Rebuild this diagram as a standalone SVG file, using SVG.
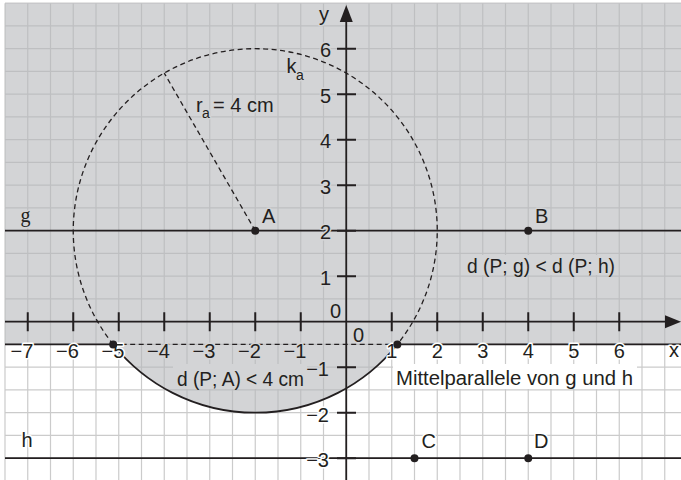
<svg xmlns="http://www.w3.org/2000/svg" width="681" height="480" viewBox="0 0 681 480">
<style>
  .t{font-family:"Liberation Sans",Arial,sans-serif;font-size:20px;fill:#231f20}
  .s{font-size:14px}
  .hg{paint-order:stroke;stroke:#d3d4d6;stroke-width:3;stroke-linejoin:round}
  .hw{paint-order:stroke;stroke:#ffffff;stroke-width:3;stroke-linejoin:round}
  .ln{stroke:#231f20;stroke-width:1.8;fill:none}
  .dash{stroke:#231f20;stroke-width:1.3;fill:none;stroke-dasharray:5 3.5}
  .tick{stroke:#231f20;stroke-width:2}
  .pt{fill:#231f20}
</style>
<defs>
  <path id="grid" fill="none" d="M5 3.2V480M27.75 3.2V480M50.5 3.2V480M73.25 3.2V480M96 3.2V480M118.75 3.2V480M141.5 3.2V480M164.25 3.2V480M187 3.2V480M209.75 3.2V480M232.5 3.2V480M255.25 3.2V480M278 3.2V480M300.75 3.2V480M323.5 3.2V480M346.25 3.2V480M369 3.2V480M391.75 3.2V480M414.5 3.2V480M437.25 3.2V480M460 3.2V480M482.75 3.2V480M505.5 3.2V480M528.25 3.2V480M551 3.2V480M573.75 3.2V480M596.5 3.2V480M619.25 3.2V480M642 3.2V480M664.75 3.2V480M5 3.2H681M5 25.95H681M5 48.7H681M5 71.45H681M5 94.2H681M5 116.95H681M5 139.7H681M5 162.45H681M5 185.2H681M5 207.95H681M5 230.7H681M5 253.45H681M5 276.2H681M5 298.95H681M5 321.7H681M5 344.45H681M5 367.2H681M5 389.95H681M5 412.7H681M5 435.45H681M5 458.2H681"/>
  <clipPath id="greyClip">
    <rect x="5" y="3.2" width="676" height="341.25"/>
    <circle cx="255.25" cy="230.7" r="182"/>
  </clipPath>
</defs>

<g id="background">
  <rect x="0" y="0" width="681" height="480" fill="#ffffff"/>
  <use href="#grid" stroke="#cbcbcb" stroke-width="1.2"/>
  <g clip-path="url(#greyClip)">
    <rect x="5" y="3.2" width="676" height="477" fill="#d3d4d6"/>
    <use href="#grid" stroke="#bebfc1" stroke-width="1.2"/>
  </g>
</g>

<g id="text-boxes">
  <rect x="393" y="364" width="244" height="25" fill="#ffffff"/>
  <rect x="173" y="364" width="134" height="25" fill="#d3d4d6"/>
  <rect x="463" y="255" width="155" height="20" fill="#d3d4d6"/>
</g>

<g id="connectors">
  <line class="ln" x1="5" y1="230.7" x2="681" y2="230.7"/>
  <line class="ln" x1="5" y1="458.2" x2="681" y2="458.2"/>
  <path class="ln" stroke-width="2" d="M5 344.45H113.18M397.32 344.45H681"/>
  <line class="dash" stroke-dasharray="6 3.5" x1="113.18" y1="344.45" x2="397.32" y2="344.45"/>
  <path class="dash" d="M113.18 344.45A182 182 0 1 1 397.32 344.45"/>
  <path class="ln" stroke-width="2" d="M113.18 344.45A182 182 0 0 0 397.32 344.45"/>
  <line class="dash" x1="255.25" y1="230.7" x2="164.25" y2="73.08"/>
  <line class="ln" stroke-width="2" x1="5" y1="321.7" x2="668" y2="321.7"/>
  <polygon class="pt" points="681,321.7 665,315.2 665,328.2"/>
  <line class="ln" stroke-width="2" x1="346.25" y1="480" x2="346.25" y2="20"/>
  <polygon class="pt" points="346.25,5 339.75,22 352.75,22"/>
  <path class="tick" d="M27.75 312.2V331.2M73.25 312.2V331.2M118.75 312.2V331.2M164.25 312.2V331.2M209.75 312.2V331.2M255.25 312.2V331.2M300.75 312.2V331.2M391.75 312.2V331.2M437.25 312.2V331.2M482.75 312.2V331.2M528.25 312.2V331.2M573.75 312.2V331.2M619.25 312.2V331.2"/>
  <path class="tick" d="M337 48.7H356M337 94.2H356M337 139.7H356M337 185.2H356M337 230.7H356M337 276.2H356M337 367.2H356M337 412.7H356M337 458.2H356"/>
</g>

<g id="axis-labels" class="t">
  <text class="t hg" x="319" y="21">y</text>
  <text class="t hw" x="669" y="357">x</text>
  <g text-anchor="end">
    <text class="t hg" x="331" y="57.4">6</text>
    <text class="t hg" x="331" y="102.9">5</text>
    <text class="t hg" x="331" y="148.4">4</text>
    <text class="t hg" x="331" y="193.9">3</text>
    <text class="t hg" x="331" y="239.4">2</text>
    <text class="t hg" x="331" y="284.9">1</text>
    <text class="t hg" x="341" y="317.5">0</text>
    <text class="t hg" x="329" y="376">−1</text>
    <text class="t hw" x="329" y="421.5">−2</text>
    <text class="t hw" x="329" y="467">−3</text>
    <text class="t hw" x="33.35" y="358.3">−7</text>
    <text class="t hw" x="78.85" y="358.3">−6</text>
    <text class="t hw" x="124.35" y="358.3">−5</text>
    <text class="t hg" x="169.85" y="358.3">−4</text>
    <text class="t hg" x="215.35" y="358.3">−3</text>
    <text class="t hg" x="260.85" y="358.3">−2</text>
    <text class="t hg" x="306.35" y="358.3">−1</text>
    <text class="t hw" x="397.35" y="358.3">1</text>
    <text class="t hw" x="442.85" y="358.3">2</text>
    <text class="t hw" x="488.35" y="358.3">3</text>
    <text class="t hw" x="533.85" y="358.3">4</text>
    <text class="t hw" x="579.35" y="358.3">5</text>
    <text class="t hw" x="624.85" y="358.3">6</text>
  </g>
  <text class="t hg" x="353" y="341.5">0</text>
</g>

<g id="line-labels">
  <text class="t hg" x="20.5" y="222" style="font-family:'Liberation Serif','Times New Roman',serif">g</text>
  <text class="t hw" x="21.5" y="447">h</text>
  <text class="t hg" x="286.5" y="72.7">k</text>
  <text class="t s hg" x="296" y="80">a</text>
  <text class="t hg" x="196" y="111.5">r</text>
  <text class="t s hg" x="202" y="118">a</text>
  <text class="t hg" x="213" y="111.5">= 4 cm</text>
  <text class="t" x="467" y="273" textLength="148" lengthAdjust="spacingAndGlyphs">d (P; g) &lt; d (P; h)</text>
  <text class="t" x="177" y="386" textLength="127" lengthAdjust="spacingAndGlyphs">d (P; A) &lt; 4 cm</text>
  <text class="t" x="396" y="385" textLength="237" lengthAdjust="spacingAndGlyphs">Mittelparallele von g und h</text>
</g>

<g id="point-A">
  <circle class="pt" cx="255.25" cy="230.7" r="4"/>
  <text class="t hg" x="262" y="223">A</text>
</g>
<g id="point-B">
  <circle class="pt" cx="528.25" cy="230.7" r="4"/>
  <text class="t hg" x="535" y="223">B</text>
</g>
<g id="point-C">
  <circle class="pt" cx="414.5" cy="458.2" r="4"/>
  <text class="t hw" x="421.5" y="448">C</text>
</g>
<g id="point-D">
  <circle class="pt" cx="528.25" cy="458.2" r="4"/>
  <text class="t hw" x="534" y="448">D</text>
</g>
<g id="intersection-points">
  <circle class="pt" cx="113.18" cy="344.45" r="4"/>
  <circle class="pt" cx="397.32" cy="344.45" r="4"/>
</g>
</svg>
